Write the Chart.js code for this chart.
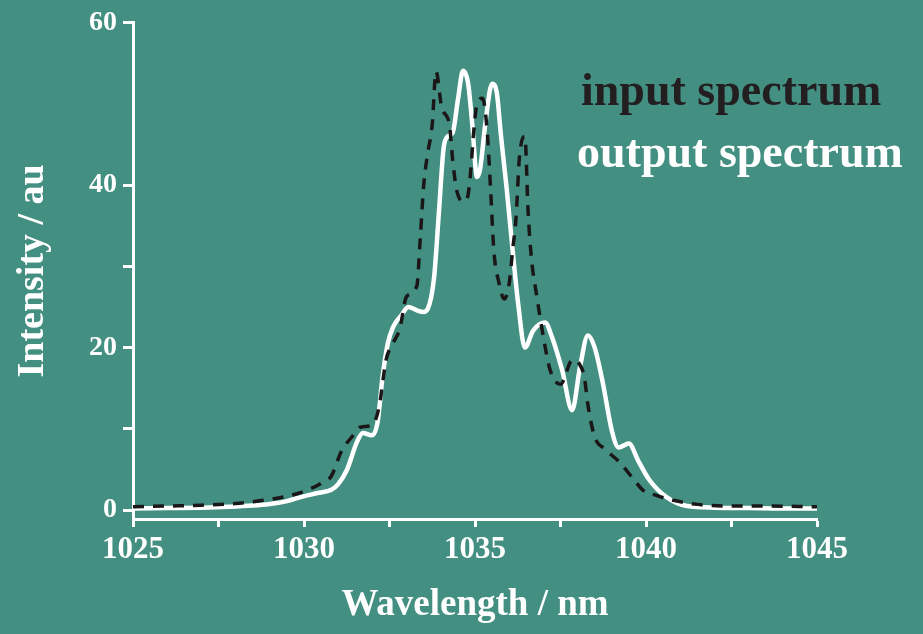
<!DOCTYPE html>
<html>
<head>
<meta charset="utf-8">
<script src="https://cdn.jsdelivr.net/npm/chart.js@4/dist/chart.umd.min.js"></script>
<style>
  html, body { margin: 0; padding: 0; background: #438f81; }
  #wrap { width: 923px; height: 634px; }
</style>
</head>
<body>
<div id="wrap"><canvas id="c" width="923" height="634"></canvas></div>
<script>
// ---- data ----
const inputLabel = "input spectrum";
const outputLabel = "output spectrum";

const inputX = [1025, 1026, 1027, 1028, 1028.8, 1029.5, 1030, 1030.5, 1030.8, 1031.1, 1031.4, 1031.65, 1032.0, 1032.2, 1032.4, 1032.6, 1032.8, 1033.0, 1033.3, 1033.4, 1033.5, 1033.6, 1033.75, 1033.86, 1034.03, 1034.25, 1034.35, 1034.46, 1034.65, 1034.78, 1034.88, 1034.95, 1035.05, 1035.22, 1035.35, 1035.45, 1035.55, 1035.7, 1035.85, 1036.0, 1036.1, 1036.2, 1036.3, 1036.46, 1036.55, 1036.65, 1036.8, 1037.0, 1037.2, 1037.5, 1037.85, 1038.05, 1038.2, 1038.3, 1038.5, 1038.8, 1039.2, 1039.6, 1039.9, 1040.3, 1040.8, 1041.5, 1042.5, 1043.5, 1045];
const inputY = [0.4, 0.5, 0.6, 0.8, 1.2, 1.7, 2.3, 3.3, 4.2, 7.3, 9.0, 10.2, 10.5, 12.8, 18.5, 20.5, 22.3, 26.3, 27.6, 33.5, 40, 43.5, 47.5, 54, 49.5, 47.5, 43, 39.5, 38, 38.5, 42, 46, 49.8, 50.7, 47, 40, 32, 28, 26, 27.9, 32, 36, 43.5, 46, 37, 31, 26.5, 21.3, 17.2, 15.5, 18.5, 18, 16.3, 13, 9, 7.5, 6.0, 4, 2.5, 1.8, 1.2, 0.7, 0.5, 0.5, 0.4];

const outputX = [1025, 1026, 1027, 1027.8, 1028.5, 1029.0, 1029.5, 1029.9, 1030.4, 1030.8, 1031.0, 1031.25, 1031.55, 1031.72, 1031.98, 1032.15, 1032.3, 1032.45, 1032.6, 1032.85, 1033.05, 1033.3, 1033.48, 1033.62, 1033.8, 1033.95, 1034.08, 1034.2, 1034.35, 1034.5, 1034.65, 1034.8, 1034.92, 1035.06, 1035.15, 1035.3, 1035.5, 1035.64, 1035.75, 1035.93, 1036.1, 1036.26, 1036.46, 1036.7, 1037.05, 1037.25, 1037.55, 1037.84, 1038.07, 1038.3, 1038.5, 1038.74, 1039.0, 1039.2, 1039.5, 1039.77, 1040.1, 1040.6, 1041.2, 1042, 1043, 1044, 1045];
const outputY = [0.2, 0.25, 0.3, 0.4, 0.55, 0.75, 1.1, 1.6, 2.1, 2.5, 3.2, 4.9, 8.4, 9.5, 9.2, 10.8, 16.5, 20.5, 22.5, 24.0, 25.0, 24.6, 24.4, 24.8, 28.5, 37, 44.5, 46, 46.5, 50.5, 54.1, 52.5, 47.5, 41, 42, 47.5, 52.5, 51.3, 46.5, 39.4, 32, 25.5, 20.0, 22.1, 23.1, 21.3, 17.2, 12.3, 17.6, 21.5, 20.0, 15.6, 9.8, 7.7, 8.2, 6.1, 3.7, 1.6, 0.5, 0.3, 0.25, 0.2, 0.2];

const xTickValues = [1025, 1027.5, 1030, 1032.5, 1035, 1037.5, 1040, 1042.5, 1045];
const xTickLabels = ["1025", "", "1030", "", "1035", "", "1040", "", "1045"];
const yTickValues = [0, 10, 20, 30, 40, 50, 60];
const yTickLabels = ["0", "", "20", "", "40", "", "60"];

const xTitle = "Wavelength / nm";
const yTitle = "Intensity / au";

// ---- styles ----
const BG = "#438f81";
const WHITE = "#ffffff";
const DARK = "#1b1718";
const SERIF = "'Liberation Serif', 'DejaVu Serif', serif";

const toPoints = (xs, ys) => xs.map((x, i) => ({ x: x, y: ys[i] }));

const bgPlugin = {
  id: "bg",
  beforeDraw(chart) {
    const ctx = chart.ctx;
    ctx.save();
    ctx.fillStyle = BG;
    ctx.fillRect(0, 0, chart.width, chart.height);
    ctx.restore();
  }
};

const textLegend = {
  id: "textLegend",
  afterDraw(chart) {
    const ctx = chart.ctx;
    const a = chart.chartArea;
    ctx.save();
    ctx.font = "bold 46px " + SERIF;
    ctx.textAlign = "left";
    ctx.textBaseline = "alphabetic";
    const x0 = a.right - 236;
    chart.data.datasets.forEach((ds, i) => {
      ctx.fillStyle = ds.legendColor;
      ctx.fillText(ds.label, x0 - (i === 1 ? 4 : 0), a.top + 82 + i * 62);
    });
    ctx.restore();
  }
};

new Chart(document.getElementById("c"), {
  type: "line",
  data: {
    datasets: [
      {
        label: inputLabel,
        data: toPoints(inputX, inputY),
        borderColor: DARK,
        legendColor: "#231f20",
        borderWidth: 3.5,
        borderDash: [11, 9],
        pointRadius: 0,
        cubicInterpolationMode: "monotone",
        fill: false,
        order: 0
      },
      {
        label: outputLabel,
        data: toPoints(outputX, outputY),
        borderColor: WHITE,
        legendColor: WHITE,
        borderWidth: 4.5,
        pointRadius: 0,
        cubicInterpolationMode: "monotone",
        fill: false,
        order: 1
      }
    ]
  },
  options: {
    responsive: false,
    animation: false,
    layout: { padding: { top: 20, right: 106, left: 0, bottom: 0 } },
    plugins: {
      legend: { display: false },
      tooltip: { enabled: false }
    },
    scales: {
      x: {
        type: "linear",
        min: 1025,
        max: 1045,
        afterBuildTicks(scale) { scale.ticks = xTickValues.map(v => ({ value: v })); },
        afterFit(scale) { scale.height = 115; },
        border: { display: true, color: WHITE, width: 3 },
        grid: {
          drawOnChartArea: false,
          drawTicks: true,
          tickLength: 8,
          tickColor: WHITE,
          tickWidth: 3
        },
        ticks: {
          autoSkip: false,
          maxRotation: 0,
          padding: 4,
          color: WHITE,
          font: { family: SERIF, size: 31, weight: "bold" },
          callback: (v, i) => xTickLabels[i]
        },
        title: {
          display: true,
          text: xTitle,
          color: WHITE,
          font: { family: SERIF, size: 37, weight: "bold" },
          padding: { top: 0, bottom: 6 }
        }
      },
      y: {
        type: "linear",
        min: -1.1,
        max: 60,
        afterBuildTicks(scale) { scale.ticks = yTickValues.map(v => ({ value: v })); },
        afterFit(scale) { scale.width = 133; },
        border: { display: true, color: WHITE, width: 3 },
        grid: {
          drawOnChartArea: false,
          drawTicks: true,
          tickLength: 10,
          tickWidth: 3,
          tickColor: (c) => (c.tick && c.tick.value === 50 ? "rgba(0,0,0,0)" : WHITE)
        },
        ticks: {
          autoSkip: false,
          padding: 6,
          color: WHITE,
          font: { family: SERIF, size: 28, weight: "bold" },
          callback: (v, i) => yTickLabels[i]
        },
        title: {
          display: true,
          text: yTitle,
          color: WHITE,
          font: { family: SERIF, size: 38, weight: "bold" },
          padding: { top: 10, bottom: 0 }
        }
      }
    }
  },
  plugins: [bgPlugin, textLegend]
});
</script>
</body>
</html>
